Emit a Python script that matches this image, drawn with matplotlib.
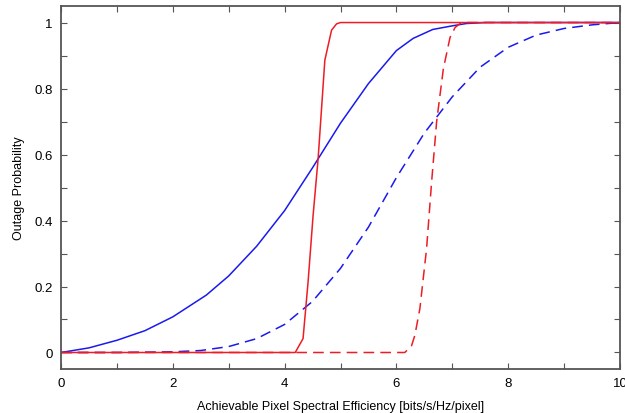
import matplotlib
matplotlib.use("Agg")
import matplotlib.pyplot as plt
from matplotlib.ticker import MultipleLocator, FuncFormatter

plt.rcParams['font.family'] = ['Liberation Sans', 'DejaVu Sans']

# Blue solid
bs_x = [0, 0.5, 1, 1.5, 2, 2.6, 3, 3.5, 4, 4.5, 5, 5.5, 6, 6.3, 6.65, 7, 7.25, 7.6, 10]
bs_y = [0, 0.014, 0.037, 0.066, 0.108, 0.174, 0.232, 0.322, 0.43, 0.56, 0.695, 0.815, 0.915, 0.952, 0.979, 0.99, 0.997, 1.0, 1.0]

# Blue dashed
bd_x = [0, 0.5, 1, 1.5, 2, 2.5, 3, 3.5, 4, 4.5, 5, 5.5, 6, 6.5, 7, 7.5, 8, 8.5, 9, 9.5, 10]
bd_y = [0, 0, 0, 0.001, 0.002, 0.006, 0.018, 0.042, 0.085, 0.155, 0.255, 0.38, 0.53, 0.665, 0.775, 0.865, 0.925, 0.962, 0.982, 0.993, 1.0]

# Red solid
rs_x = [0, 4.19, 4.33, 4.42, 4.51, 4.60, 4.72, 4.84, 4.93, 5.0, 10]
rs_y = [0, 0, 0.042, 0.214, 0.416, 0.588, 0.886, 0.977, 0.996, 1.0, 1.0]

# Red dashed
rd_x = [0, 6.15, 6.27, 6.33, 6.42, 6.54, 6.63, 6.72, 6.84, 6.96, 7.05, 7.14, 7.25, 10]
rd_y = [0, 0, 0.02, 0.052, 0.133, 0.315, 0.517, 0.70, 0.86, 0.955, 0.985, 0.997, 1.0, 1.0]

fig = plt.figure(figsize=(6.25, 4.14), dpi=100)
ax = fig.add_axes([0.0976, 0.1063, 0.8944, 0.8767])

ax.plot(bs_x, bs_y, color='#1a1aee', lw=1.1)
ax.plot(bd_x, bd_y, color='#1a1aee', lw=1.1, dashes=(7, 4))
ax.plot(rd_x, rd_y, color='#ee1c24', lw=1.1, dashes=(7, 4))
ax.plot(rs_x, rs_y, color='#ee1c24', lw=1.1)

ax.set_xlim(0, 10)
ax.set_ylim(-0.05, 1.05)
ax.xaxis.set_major_locator(MultipleLocator(2))
ax.xaxis.set_minor_locator(MultipleLocator(1))
ax.yaxis.set_major_locator(MultipleLocator(0.2))
ax.yaxis.set_minor_locator(MultipleLocator(0.1))
ax.yaxis.set_major_formatter(FuncFormatter(lambda v, p: '%g' % round(v, 2)))
ax.tick_params(which='both', direction='in', top=True, right=True, length=4,
               width=0.8, color='#555555', labelsize=9.5, pad=6)

for s in ax.spines.values():
    s.set_color('#555555')
    s.set_linewidth(1.3)

ax.set_xlabel('Achievable Pixel Spectral Efficiency [bits/s/Hz/pixel]', fontsize=9, labelpad=8)
ax.set_ylabel('Outage Probability', fontsize=9, labelpad=7)

fig.savefig('out.png', dpi=100)
